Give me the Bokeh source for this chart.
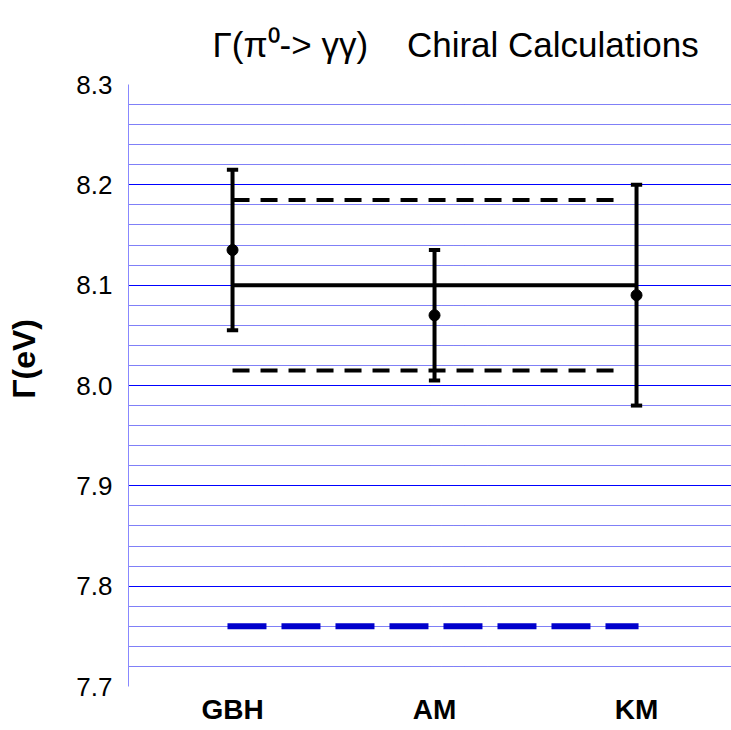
from bokeh.plotting import figure
from bokeh.models import Range1d, SingleIntervalTicker, FixedTicker, PrintfTickFormatter, Title
from bokeh.embed import file_html
from bokeh.resources import INLINE

# ---- data ----
categories = ["GBH", "AM", "KM"]
central = [8.135, 8.07, 8.09]
errors = [0.08, 0.065, 0.11]
average = 8.10
band_low = 8.015
band_high = 8.185
experiment = 7.76
y_ticks = [7.7, 7.8, 7.9, 8.0, 8.1, 8.2, 8.3]

xs = [i + 1 for i in range(len(categories))]
lows = [c - e for c, e in zip(central, errors)]
highs = [c + e for c, e in zip(central, errors)]

FL, FT = 128, 84          # frame left / top on the page
FW, FH = 603, 602         # frame size
X0, X1 = 0.485, 0.485 + FW / 202.0
Y0, Y1 = y_ticks[0], y_ticks[-1]

p = figure(frame_width=FW, frame_height=FH, output_backend="svg", toolbar_location=None,
           x_range=Range1d(X0, X1), y_range=Range1d(Y0, Y1),
           min_border_left=FL, min_border_right=0, min_border_top=FT,
           min_border_bottom=40)
p.outline_line_color = None
p.background_fill_color = "white"
p.border_fill_color = "white"

NB = "\u00a0"
# title
p.title = Title(text="Γ(π⁰-> γγ)" + NB * 3 + " Chiral Calculations", text_font="Liberation Sans",
                text_font_size="35px", text_font_style="normal", text_color="black",
                align="left", offset=84, standoff=41)

# grid
tick = SingleIntervalTicker(interval=0.1, num_minor_ticks=5)
p.yaxis.ticker = tick
p.ygrid.ticker = tick
p.ygrid.grid_line_color = "#0000ff"
p.ygrid.grid_line_width = 1
p.ygrid.minor_grid_line_color = "#0000ee"
p.ygrid.minor_grid_line_width = 1
p.ygrid.minor_grid_line_dash = "1 1"
p.xgrid.grid_line_color = None

# axes
p.yaxis.formatter = PrintfTickFormatter(format="%.1f")
p.yaxis.axis_line_color = "#8888ff"
p.yaxis.axis_line_width = 1
p.yaxis.major_tick_line_color = None
p.yaxis.minor_tick_line_color = None
p.yaxis.major_label_text_font = "Liberation Sans"
p.yaxis.major_label_text_font_size = "26px"
p.yaxis.major_label_text_color = "black"
p.yaxis.major_label_standoff = 10
p.yaxis.axis_label = NB * 6 + "Γ(eV)"
p.yaxis.axis_label_text_font = "Liberation Sans"
p.yaxis.axis_label_text_font_style = "bold"
p.yaxis.axis_label_text_font_size = "32px"
p.yaxis.axis_label_text_color = "black"
p.yaxis.axis_label_standoff = 31

p.xaxis.ticker = FixedTicker(ticks=xs)
p.xaxis.major_label_overrides = {x: c for x, c in zip(xs, categories)}
p.xaxis.axis_line_color = None
p.xaxis.major_tick_line_color = None
p.xaxis.minor_tick_line_color = None
p.xaxis.major_label_text_font = "Liberation Sans"
p.xaxis.major_label_text_font_style = "bold"
p.xaxis.major_label_text_font_size = "28px"
p.xaxis.major_label_text_color = "black"
p.xaxis.major_label_standoff = 1

# reference lines
p.line([xs[0] - 0.025, xs[-1] + 0.01], [experiment, experiment],
       line_color="#0000cc", line_width=6, line_dash="39 15")
p.line([xs[0], xs[-1] - 0.06], [band_high, band_high],
       line_color="black", line_width=4, line_dash="17 11")
p.line([xs[0], xs[-1] - 0.06], [band_low, band_low],
       line_color="black", line_width=4, line_dash="17 11")
p.line([xs[0], xs[-1]], [average, average], line_color="black", line_width=4)

# error bars
p.segment(x0=xs, y0=lows, x1=xs, y1=highs, line_color="black", line_width=4)
cw = 0.028
p.segment(x0=[x - cw for x in xs], y0=highs, x1=[x + cw for x in xs], y1=highs,
          line_color="black", line_width=4)
p.segment(x0=[x - cw for x in xs], y0=lows, x1=[x + cw for x in xs], y1=lows,
          line_color="black", line_width=4)
p.scatter(xs, central, size=11, color="black")

open("out.html", "w").write(file_html(p, INLINE))
